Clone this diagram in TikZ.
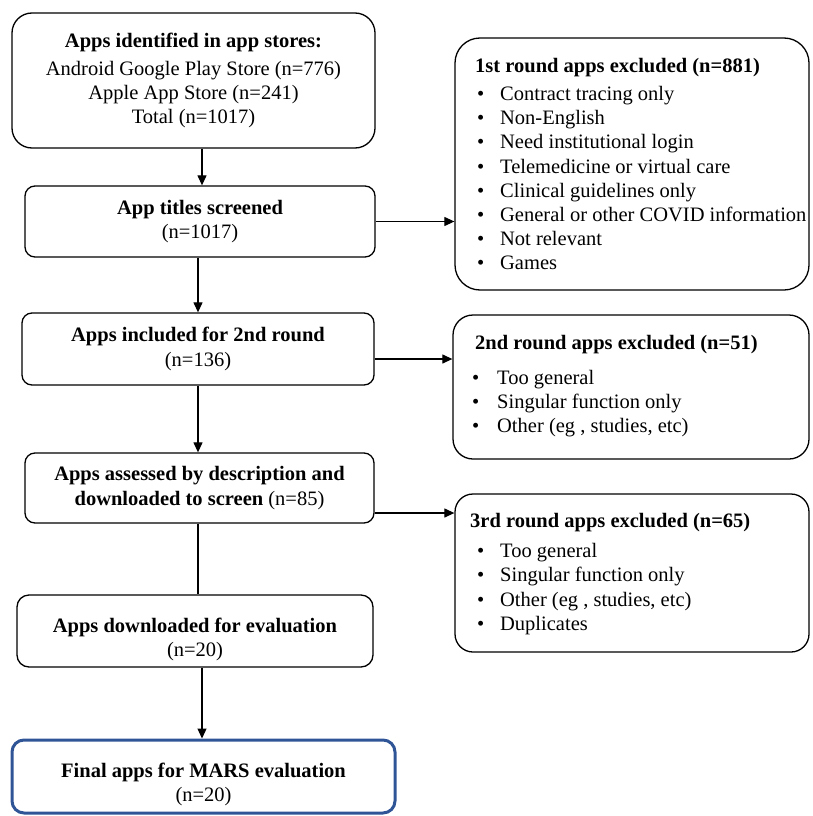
\documentclass[tikz,border=0pt]{standalone}
\usepackage{fontspec}
\setmainfont{Liberation Serif}
\usetikzlibrary{arrows.meta}
\definecolor{boxblue}{RGB}{47,85,151}
\begin{document}
\begin{tikzpicture}[x=1pt,y=-1pt,
  every node/.style={font=\fontsize{20.5}{24.2}\selectfont},
  box/.style={draw, line width=1.3pt, rounded corners=#1, inner sep=0pt, align=center},
  box/.default=10pt,
  txt/.style={anchor=west, align=left, inner sep=0pt},
  arr/.style={-{Triangle[length=10pt,width=9pt]}, line width=1.2pt},
  plain/.style={line width=1.2pt}]
\useasboundingbox (0,0) rectangle (812,816);

\node[box=20pt, minimum width=363pt, minimum height=135pt] (b1) at (193.5,80.5)
  {\textbf{Apps identified in app stores:}\\[4pt]
   Android Google Play Store (n=776)\\Apple App Store (n=241)\\Total (n=1017)};
\node[box, minimum width=350pt, minimum height=71pt] (b2) at (200,221.5)
  {\textbf{App titles screened}\\(n=1017)};
\node[box, minimum width=352pt, minimum height=72pt] (b3) at (198,349)
  {\textbf{Apps included for 2nd round}\\(n=136)};
\node[box, minimum width=349pt, minimum height=70pt] (b4) at (199.5,488)
  {\textbf{Apps assessed by description and}\\\textbf{downloaded to screen} (n=85)};
\node[box=12pt, minimum width=356pt, minimum height=72pt] (b5) at (195,631)
  {\rule{0pt}{32pt}\textbf{Apps downloaded for evaluation}\\(n=20)};
\node[box=12pt, draw=boxblue, line width=3pt, minimum width=383pt, minimum height=73pt] (b6) at (203.5,776.5)
  {\rule{0pt}{30pt}\textbf{Final apps for MARS evaluation}\\(n=20)};

\node[box=25pt, minimum width=354pt, minimum height=252pt] (exA) at (632,164) {};
\node[box=20pt, minimum width=356pt, minimum height=144pt] (exB) at (631,387) {};
\node[box=18pt, minimum width=354pt, minimum height=158pt] (exC) at (632,573) {};

\node[txt] (tA) at (475,164)
  {\textbf{1st round apps excluded (n=881)}\\[4pt]
   \hspace*{2pt}\makebox[23pt][l]{\textbullet}Contract tracing only\\
   \hspace*{2pt}\makebox[23pt][l]{\textbullet}Non-English\\
   \hspace*{2pt}\makebox[23pt][l]{\textbullet}Need institutional login\\
   \hspace*{2pt}\makebox[23pt][l]{\textbullet}Telemedicine or virtual care\\
   \hspace*{2pt}\makebox[23pt][l]{\textbullet}Clinical guidelines only\\
   \hspace*{2pt}\makebox[23pt][l]{\textbullet}General or other COVID information\\
   \hspace*{2pt}\makebox[23pt][l]{\textbullet}Not relevant\\
   \hspace*{2pt}\makebox[23pt][l]{\textbullet}Games};
\node[txt] (tB) at (475,386)
  {\textbf{2nd round apps excluded (n=51)}\\[11pt]
   \hspace*{-3pt}\makebox[25pt][l]{\textbullet}Too general\\
   \hspace*{-3pt}\makebox[25pt][l]{\textbullet}Singular function only\\
   \hspace*{-3pt}\makebox[25pt][l]{\textbullet}Other (eg , studies, etc)};
\node[txt] (tC) at (470,574)
  {\textbf{3rd round apps excluded (n=65)}\\[6pt]
   \hspace*{7pt}\makebox[23pt][l]{\textbullet}Too general\\
   \hspace*{7pt}\makebox[23pt][l]{\textbullet}Singular function only\\
   \hspace*{7pt}\makebox[23pt][l]{\textbullet}Other (eg , studies, etc)\\
   \hspace*{7pt}\makebox[23pt][l]{\textbullet}Duplicates};

\coordinate (xa) at (202,0);
\coordinate (xb) at (198,0);
\draw[arr] (b1.south -| xa) -- (b2.north -| xa);
\draw[arr] (b2.south -| xb) -- (b3.north -| xb);
\draw[arr] (b3.south -| xb) -- (b4.north -| xb);
\draw[plain] (b4.south -| xb) -- (b5.north -| xb);
\draw[arr] (b5.south -| xa) -- (b6.north -| xa);

\draw[arr] (b2.east) -- (b2.east -| exA.west);
\draw[arr] ([yshift=-10pt]b3.east) -- ([yshift=-10pt]b3.east -| exB.west);
\draw[arr] ([yshift=-25pt]b4.east) -- ([yshift=-25pt]b4.east -| exC.west);
\end{tikzpicture}
\end{document}
